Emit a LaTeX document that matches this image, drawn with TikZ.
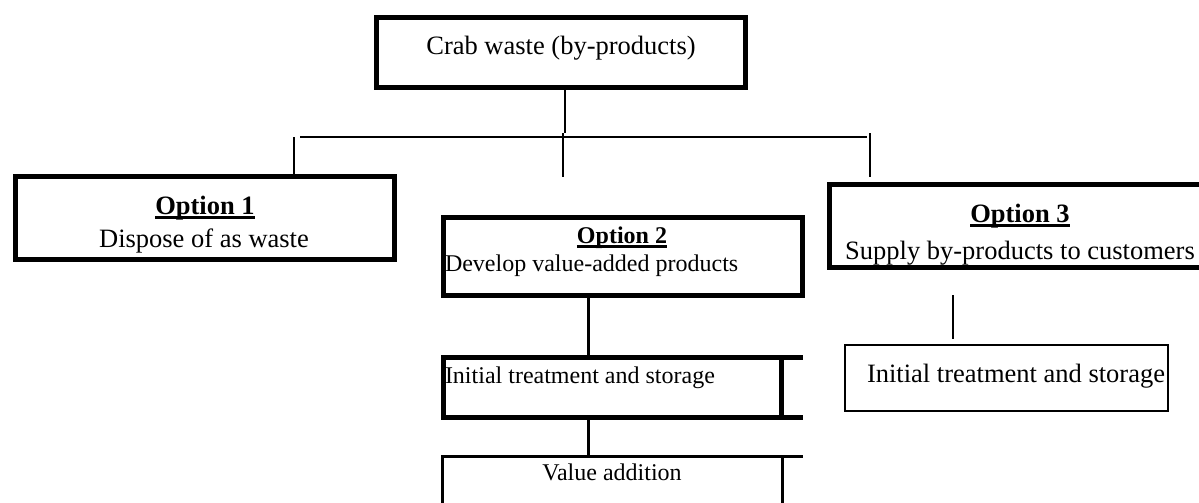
\documentclass[tikz,border=0pt]{standalone}
\usepackage{fontspec}
\setmainfont{Liberation Serif}
\newcommand{\bigtxt}{\fontsize{26.5}{30}\selectfont}
\newcommand{\midtxt}{\fontsize{24}{28}\selectfont}
\newcommand{\optul}[2]{\setbox0\hbox{#2}\rlap{\raisebox{-4.5pt}{\rule{\wd0}{#1}}}\box0}
\begin{document}
\begin{tikzpicture}[x=1pt,y=-1pt,
  heavybox/.style={draw, line width=5pt, inner sep=0pt, outer sep=0pt, rectangle},
  lightbox/.style={draw, line width=2pt, inner sep=0pt, outer sep=0pt, rectangle},
  txt/.style={inner sep=0pt, outer sep=0pt, anchor=base},
  link/.style={line width=2pt},
  thinlink/.style={line width=1.5pt},
  midlink/.style={line width=3pt}]
\useasboundingbox (0,0) rectangle (1199,503);
\clip (0,0) rectangle (1199,503);

% boxes
\node[heavybox, minimum width=369pt, minimum height=70pt] (top) at (561,52.5) {};
\node[heavybox, minimum width=379pt, minimum height=83pt] (op1) at (205,218) {};
\node[heavybox, minimum width=359pt, minimum height=78pt] (op2) at (623,256.5) {};
\node[heavybox, minimum width=338pt, minimum height=60pt] (init2) at (612.5,387.5) {};
\node[draw, line width=3pt, inner sep=0pt, outer sep=0pt, minimum width=340pt, minimum height=67pt] (value) at (612.5,490) {};
\node[heavybox, minimum width=381pt, minimum height=83pt] (op3) at (1020,226) {};
\node[lightbox, minimum width=323pt, minimum height=66pt] (init3) at (1006.5,378) {};

% table artefacts at the right of the middle column
\draw[line width=5pt] (init2.north east) -- ++(21.5,0);
\draw[line width=5pt] (init2.south east) -- ++(21.5,0);
\draw[line width=3pt] (value.north east) -- ++(20.5,0);

% texts
\node[txt] (ttop) at (561,55) {\bigtxt Crab waste (by-products)};
\node[txt] (t1a) at (205,214) {\bigtxt\optul{2.8pt}{\textbf{Option 1}}};
\node[txt] (t1b) at (204,247) {\bigtxt Dispose of as waste};
\node[txt] (t2a) at (622,243) {\midtxt\optul{2.5pt}{\textbf{Option 2}}};
\node[txt, anchor=base west] (t2b) at (445,271) {\midtxt Develop value-added products};
\node[txt, anchor=base west] (t2c) at (445,383) {\midtxt Initial treatment and storage};
\node[txt] (t2d) at (612,480) {\midtxt Value addition};
\node[txt] (t3a) at (1020,222) {\bigtxt\optul{2.8pt}{\textbf{Option 3}}};
\node[txt] (t3b) at (1020,259) {\bigtxt Supply by-products to customers};
\node[txt, anchor=base west] (t3c) at (867,382) {\bigtxt Initial treatment and storage};

% connector coordinates
\coordinate (hubT) at (565,133);
\coordinate (hubL) at (300,137);
\coordinate (hubR) at (867,137);
\coordinate (stub1) at (294,137);
\coordinate (stub2a) at (563,133);
\coordinate (stub2b) at (563,177);
\coordinate (stub3a) at (870,133);
\coordinate (stub3b) at (870,177);
\coordinate (op3low) at (953,295);
\coordinate (init3up) at (953,339);

% connectors
\draw[link] (top.south -| hubT) -- (hubT);
\draw[link] (hubL) -- (hubR);
\draw[link] (stub2a) -- (stub2b);
\draw[thinlink] (stub1) -- (op1.north -| stub1);
\draw[thinlink] (stub3a) -- (stub3b);
\draw[midlink] ([xshift=-34.5pt]op2.south) -- ([xshift=-24pt]init2.north);
\draw[midlink] ([xshift=-24pt]init2.south) -- ([xshift=-24pt]value.north);
\draw[thinlink] (op3low) -- (init3up);
\end{tikzpicture}
\end{document}
